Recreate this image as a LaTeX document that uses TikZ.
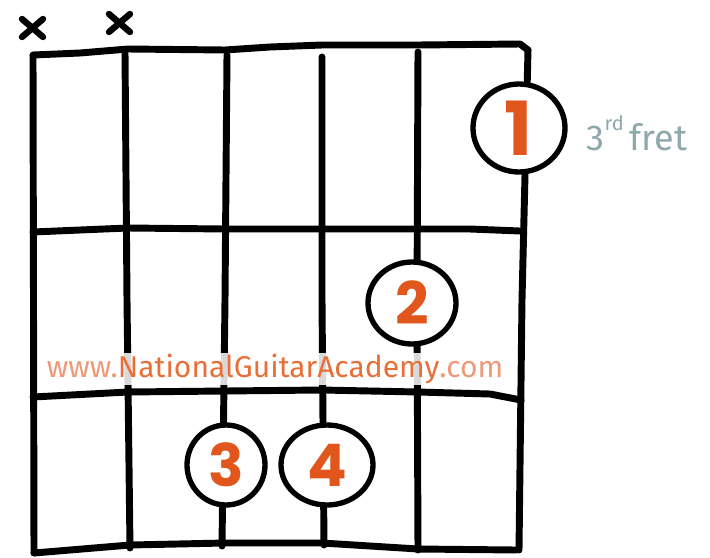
\documentclass[tikz,border=0pt]{standalone}
\usepackage{fontspec}
\usetikzlibrary{shapes.geometric}
\setmainfont{Fira Sans}
\newfontfamily\numfont{Poppins}
\definecolor{fingerorange}{HTML}{E0561C}
\definecolor{wmorange}{HTML}{E87038}
\definecolor{wmlight}{HTML}{EE9A78}
\definecolor{fretgray}{HTML}{8FA8AC}
\begin{document}
\begin{tikzpicture}[x=0.75pt,y=-0.75pt,
  ink/.style={line width=5.2pt,line cap=round,line join=round,black},
  xmark/.style={line width=4.8pt,line cap=round,black},
  finger/.style={ellipse,draw=black,line width=4pt,fill=white,inner sep=0pt,
     text=fingerorange,font=\numfont\bfseries\fontsize{44}{44}\selectfont},
]
\useasboundingbox[fill=white] (0,0) rectangle (710,557);

% strings (vertical)
\draw[ink] (33,56) -- (34,553);
\draw[ink] (125,52) -- (127,300) -- (130,548);
\draw[ink] (227,55) -- (225,300) -- (222,546);
\draw[ink] (322,57) -- (322,300) -- (324,545);
\draw[ink] (418,52) -- (417,300) -- (418,550);
\draw[ink] (528,50) -- (522,300) -- (519,550);

% frets (horizontal)
\draw[ink] (33,55) -- (80,53) -- (128,49) -- (225,50) -- (270,47) -- (322,45) -- (418,45) -- (520,44) -- (528,50);
\draw[ink] (33,232) -- (80,230) -- (128,228) -- (225,229) -- (322,229) -- (418,229) -- (470,229) -- (520,231);
\draw[ink] (33,397) -- (128,392) -- (225,391) -- (322,390) -- (418,392) -- (490,394) -- (521,400);
\draw[ink] (34,553) -- (130,545) -- (225,543) -- (322,543) -- (418,549) -- (516,550);

% muted strings
\draw[xmark] (22,19) -- (43,37) (43,19) -- (22,37);
\draw[xmark] (109,14) -- (130,32) (130,14) -- (109,32);

% watermark
\node[fill=white,fill opacity=0.85,text opacity=1,inner sep=1pt] (wm) at (275,369)
  {\fontsize{22.5}{22.5}\selectfont\color{wmlight}www.\color{wmorange}NationalGuitarAcademy\color{wmlight}.com};

% fingers
\node[finger,minimum width=92pt*0.75,minimum height=88pt*0.75,font=\numfont\bfseries\fontsize{56}{56}\selectfont] (f1) at (519,128) {1};
\node[finger,minimum width=88pt*0.75,minimum height=82pt*0.75] (f2) at (412,303) {2};
\node[finger,minimum width=78pt*0.75,minimum height=80pt*0.75] (f3) at (226,465) {3};
\node[finger,minimum width=92pt*0.75,minimum height=80pt*0.75] (f4) at (327,465) {4};

% fret label
\node[anchor=west,text=fretgray,font=\fontsize{27}{27}\selectfont] (lbl) at (582,133)
  {3\raisebox{0.55em}{\fontsize{15}{15}\selectfont rd}\,fret};
\end{tikzpicture}
\end{document}
